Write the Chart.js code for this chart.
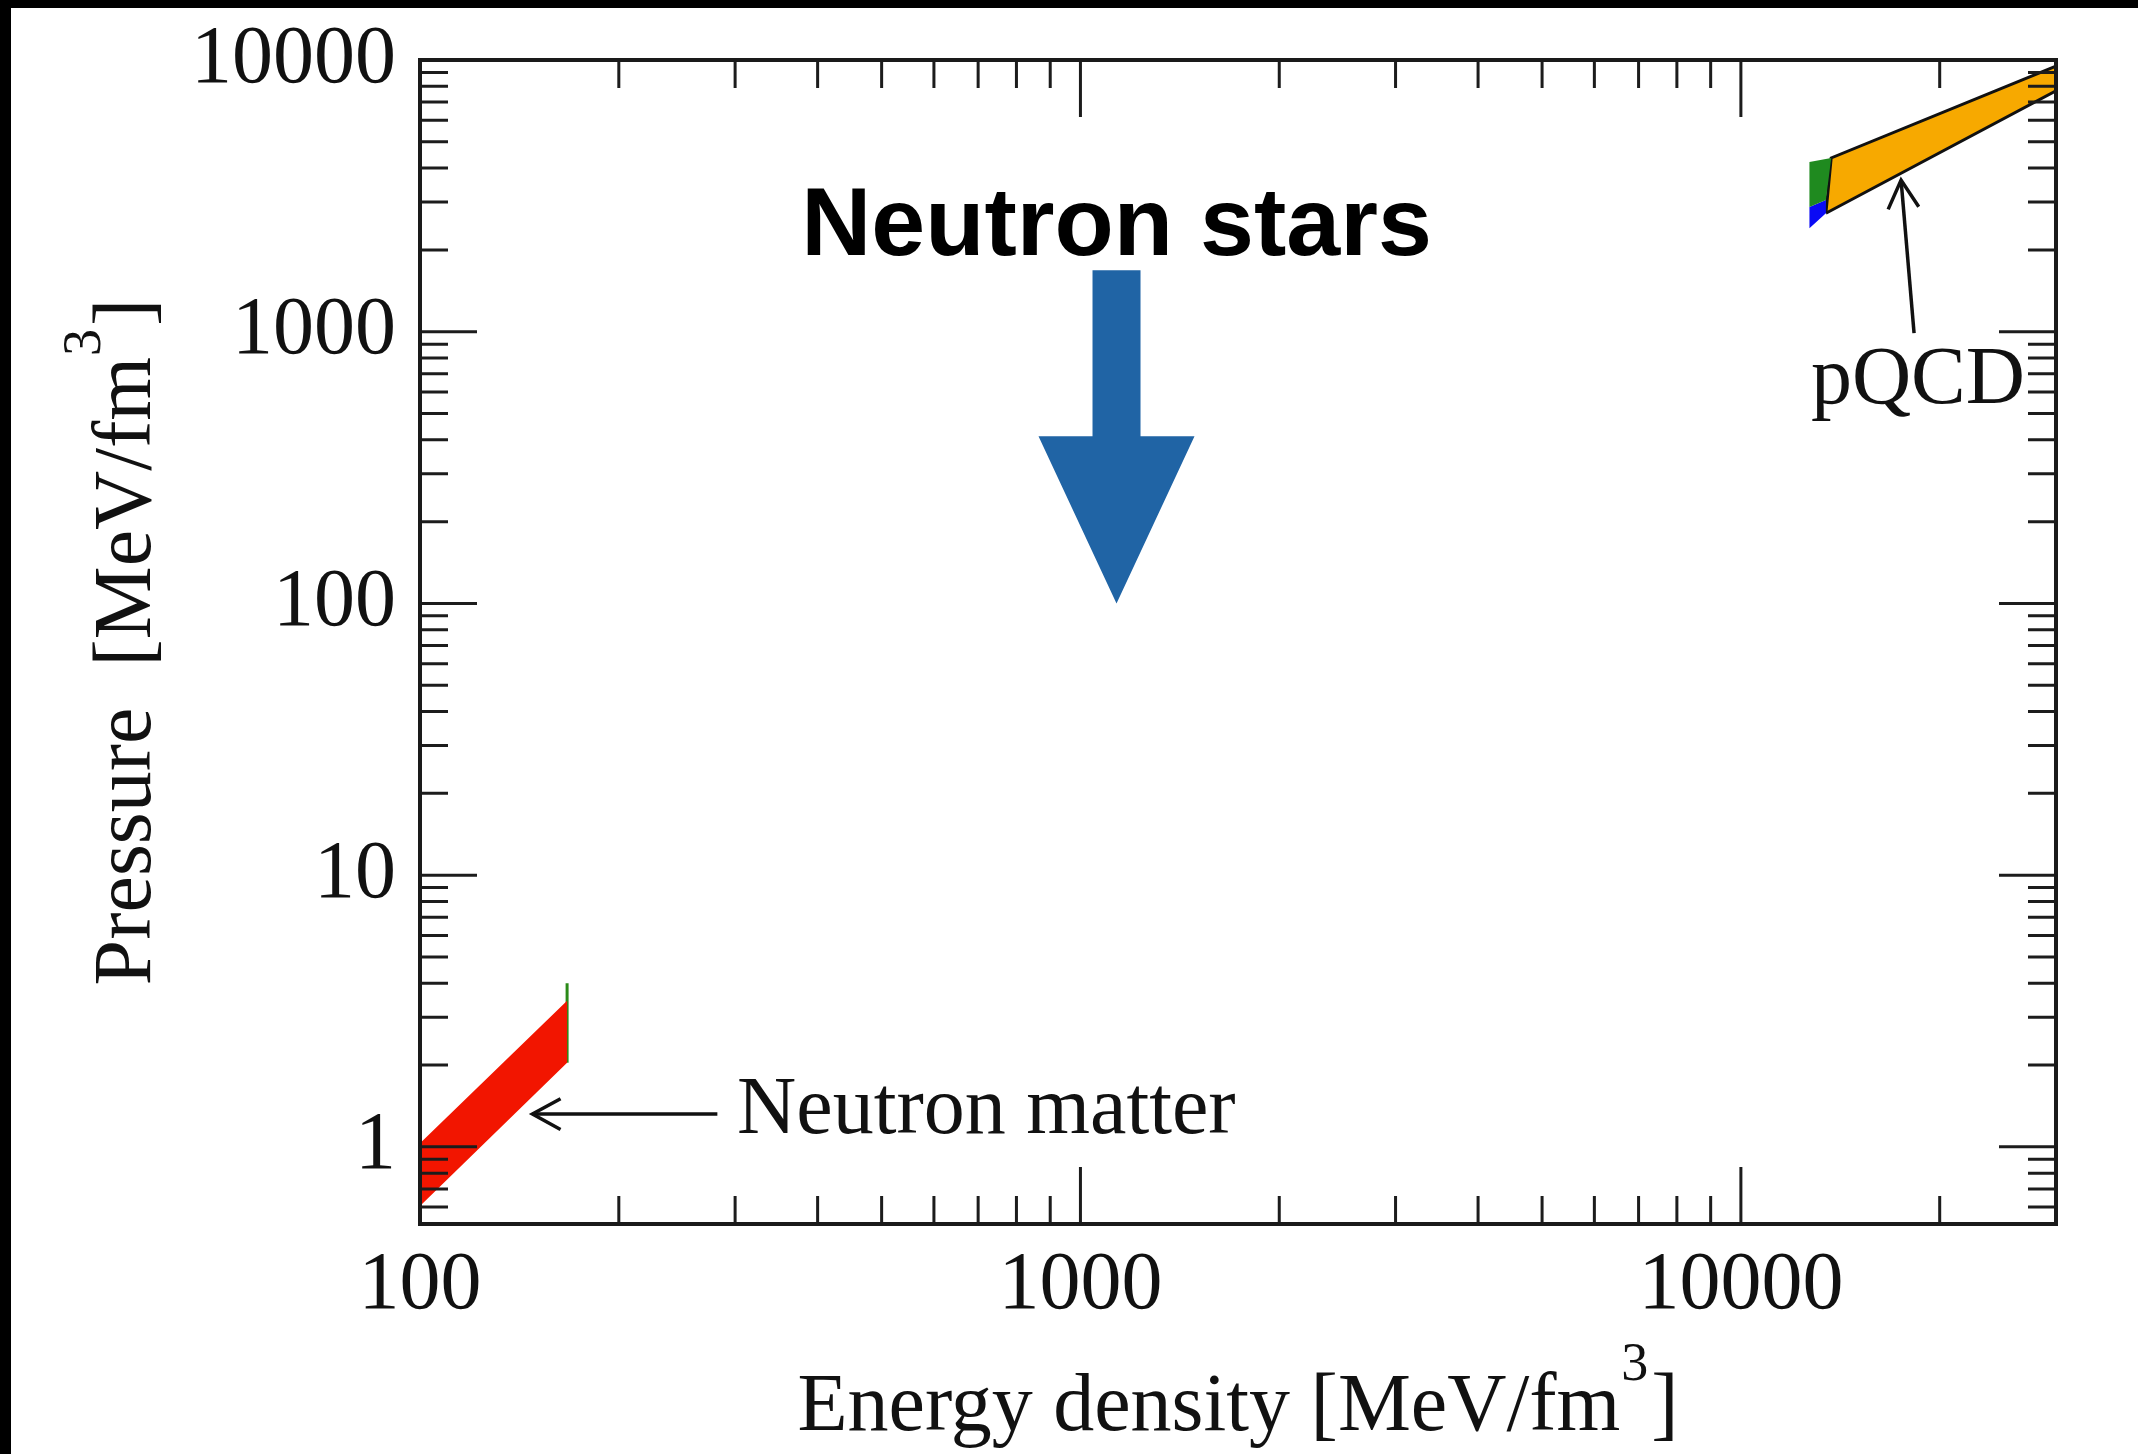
<!DOCTYPE html>
<html>
<head>
<meta charset="utf-8">
<script src="https://cdn.jsdelivr.net/npm/chart.js@4/dist/chart.umd.min.js"></script>
<style>
  html, body { margin: 0; padding: 0; background: #fff; }
  #wrap { position: relative; width: 2138px; height: 1454px; }
  canvas { display: block; }
</style>
</head>
<body>
<div id="wrap"><canvas id="c" width="2138" height="1454"></canvas></div>
<script>
// ---------------- data ----------------
const xTickValues = [100, 1000, 10000];
const yTickValues = [1, 10, 100, 1000, 10000];
const xRange = [100, 30000];
const yRange = [0.52, 10000];

// Neutron matter band (energy density, pressure)
const neutronEnergy = [100, 167];
const neutronPUpper = [1.03, 3.45];
const neutronPLower = [0.606, 2.04];
const neutronEdgeEnergy = [167, 167];
const neutronEdgeP = [2.04, 4.0];

// pQCD band
const pqcdEnergyUpper = [13700, 30000];
const pqcdPUpper = [4360, 9500];
const pqcdEnergyLower = [13450, 30000];
const pqcdPLower = [2730, 7700];

// coloured slivers at the left end of the pQCD band
const greenEnergy = [12700, 13700, 13450, 12700];
const greenP = [4210, 4360, 3050, 2877];
const blueEnergy = [12700, 13450, 13450, 12700];
const blueP = [2877, 3050, 2730, 2405];

// annotations (data coordinates)
const labelTexts = ['Neutron matter', 'pQCD', 'Neutron stars'];
const neutronArrowE = [148, 282];   // tip, tail
const neutronArrowP = [1.32, 1.32];
const neutronLabelAt = [302, 1.126];
const pqcdArrowE = [17480, 18290];  // tip, tail
const pqcdArrowP = [3614, 988];
const pqcdLabelAt = [18540, 545];
const starsLabelAt = [1134, 1914];
const starsArrowE = 1134;
const starsArrowP = [1685, 412, 100]; // shaft top, head base, tip

// ---------------- helpers ----------------
const pts = (xs, ys) => xs.map((x, i) => ({ x: x, y: ys[i] }));
const neutronPoly = pts(neutronEnergy, neutronPUpper)
  .concat(pts(neutronEnergy, neutronPLower).reverse());
const pqcdPoly = [{ x: pqcdEnergyLower[0], y: pqcdPLower[0] }]
  .concat(pts(pqcdEnergyUpper, pqcdPUpper))
  .concat(pts(pqcdEnergyLower, pqcdPLower).reverse());

const SERIF = '"Liberation Serif", "Times New Roman", serif';
const SANS = '"Liberation Sans", Arial, sans-serif';

const decorPlugin = {
  id: 'decor',
  beforeDraw(chart) {
    const ctx = chart.ctx;
    ctx.save();
    ctx.fillStyle = '#ffffff';
    ctx.fillRect(0, 0, chart.width, chart.height);
    ctx.fillStyle = '#000000';
    ctx.fillRect(0, 0, chart.width, 8);
    ctx.fillRect(0, 0, 11, chart.height);
    ctx.restore();
  },
  afterDatasetsDraw(chart) {
    const ctx = chart.ctx;
    const xs = chart.scales.x, ys = chart.scales.y;
    const { left, right, top, bottom } = chart.chartArea;
    ctx.save();
    // ticks (inward, mirrored)
    ctx.strokeStyle = '#1c1c1c';
    ctx.lineWidth = 3;
    const major = 57, minor = 28;
    const xMinor = [];
    [100, 1000, 10000].forEach(d => { for (let k = 2; k <= 9; k++) { const v = k * d; if (v < xRange[1]) xMinor.push(v); } });
    const yMinor = [];
    [0.1, 1, 10, 100, 1000].forEach(d => { for (let k = 2; k <= 9; k++) { const v = k * d; if (v > yRange[0] && v < yRange[1]) yMinor.push(v); } });
    const hTick = (v, len) => {
      const px = xs.getPixelForValue(v);
      ctx.beginPath();
      ctx.moveTo(px, bottom); ctx.lineTo(px, bottom - len);
      ctx.moveTo(px, top); ctx.lineTo(px, top + len);
      ctx.stroke();
    };
    const vTick = (v, len) => {
      const py = ys.getPixelForValue(v);
      ctx.beginPath();
      ctx.moveTo(left, py); ctx.lineTo(left + len, py);
      ctx.moveTo(right, py); ctx.lineTo(right - len, py);
      ctx.stroke();
    };
    xTickValues.forEach(v => hTick(v, major));
    xMinor.forEach(v => hTick(v, minor));
    yTickValues.forEach(v => vTick(v, major));
    yMinor.forEach(v => vTick(v, minor));
    // frame
    ctx.lineWidth = 4;
    ctx.strokeStyle = '#1a1a1a';
    ctx.strokeRect(left, top, right - left, bottom - top);

    // annotation arrows (thin)
    ctx.lineWidth = 3.5;
    ctx.strokeStyle = '#111';
    const arrow = (x1, y1, x2, y2) => { // from tail (x1,y1) to tip (x2,y2)
      ctx.beginPath(); ctx.moveTo(x1, y1); ctx.lineTo(x2, y2); ctx.stroke();
      const a = Math.atan2(y2 - y1, x2 - x1), L = 32, w = 0.5;
      ctx.beginPath();
      ctx.moveTo(x2 - L * Math.cos(a - w), y2 - L * Math.sin(a - w));
      ctx.lineTo(x2, y2);
      ctx.lineTo(x2 - L * Math.cos(a + w), y2 - L * Math.sin(a + w));
      ctx.stroke();
    };
    arrow(xs.getPixelForValue(neutronArrowE[1]), ys.getPixelForValue(neutronArrowP[1]),
          xs.getPixelForValue(neutronArrowE[0]), ys.getPixelForValue(neutronArrowP[0]));
    arrow(xs.getPixelForValue(pqcdArrowE[1]), ys.getPixelForValue(pqcdArrowP[1]),
          xs.getPixelForValue(pqcdArrowE[0]), ys.getPixelForValue(pqcdArrowP[0]));

    // label texts
    ctx.fillStyle = '#111';
    ctx.font = '82px ' + SERIF;
    ctx.textBaseline = 'alphabetic';
    ctx.textAlign = 'left';
    ctx.fillText(labelTexts[0], xs.getPixelForValue(neutronLabelAt[0]), ys.getPixelForValue(neutronLabelAt[1]));
    ctx.textAlign = 'center';
    ctx.fillText(labelTexts[1], xs.getPixelForValue(pqcdLabelAt[0]), ys.getPixelForValue(pqcdLabelAt[1]));
    ctx.fillStyle = '#000';
    ctx.font = 'bold 97px ' + SANS;
    ctx.fillText(labelTexts[2], xs.getPixelForValue(starsLabelAt[0]), ys.getPixelForValue(starsLabelAt[1]));

    // big blue arrow
    const cx = xs.getPixelForValue(starsArrowE);
    const yTop = ys.getPixelForValue(starsArrowP[0]);
    const yBase = ys.getPixelForValue(starsArrowP[1]);
    const yTip = ys.getPixelForValue(starsArrowP[2]);
    const sw = 24, hw = 78;
    ctx.fillStyle = '#2064a5';
    ctx.beginPath();
    ctx.moveTo(cx - sw, yTop); ctx.lineTo(cx + sw, yTop);
    ctx.lineTo(cx + sw, yBase); ctx.lineTo(cx + hw, yBase);
    ctx.lineTo(cx, yTip); ctx.lineTo(cx - hw, yBase);
    ctx.lineTo(cx - sw, yBase); ctx.closePath();
    ctx.fill();

    // axis titles with superscript
    const cxA = (left + right) / 2, cyA = (top + bottom) / 2;
    const drawTitle = (main, sup, tail) => {
      ctx.font = '82px ' + SERIF;
      const w1 = ctx.measureText(main).width;
      const w3 = ctx.measureText(tail).width;
      ctx.font = '54px ' + SERIF;
      const w2 = ctx.measureText(sup).width;
      const total = w1 + w2 + w3 + 4;
      let x0 = -total / 2;
      ctx.textAlign = 'left';
      ctx.font = '82px ' + SERIF;
      ctx.fillText(main, x0, 0);
      ctx.font = '54px ' + SERIF;
      ctx.fillText(sup, x0 + w1 + 1, -50);
      ctx.font = '82px ' + SERIF;
      ctx.fillText(tail, x0 + w1 + w2 + 4, 0);
    };
    ctx.fillStyle = '#111';
    ctx.save();
    ctx.translate(cxA, bottom + 206);
    drawTitle('Energy density [MeV/fm', '3', ']');
    ctx.restore();
    ctx.save();
    ctx.translate(left - 270, cyA);
    ctx.rotate(-Math.PI / 2);
    drawTitle('Pressure  [MeV/fm', '3', ']');
    ctx.restore();

    ctx.restore();
  }
};

const common = { showLine: true, pointRadius: 0, pointHoverRadius: 0, tension: 0 };

new Chart(document.getElementById('c'), {
  type: 'scatter',
  data: {
    datasets: [
      Object.assign({ label: 'Neutron matter', data: neutronPoly, backgroundColor: '#f21500', borderWidth: 0, borderColor: 'rgba(0,0,0,0)', fill: 'shape' }, common),
      Object.assign({ label: 'Neutron matter edge', data: pts(neutronEdgeEnergy, neutronEdgeP), borderColor: '#2a8a18', borderWidth: 3, fill: false }, common),
      Object.assign({ label: 'pQCD green', data: pts(greenEnergy, greenP), backgroundColor: '#1f8a1f', borderWidth: 0, borderColor: 'rgba(0,0,0,0)', fill: 'shape' }, common),
      Object.assign({ label: 'pQCD blue', data: pts(blueEnergy, blueP), backgroundColor: '#0a0af5', borderWidth: 0, borderColor: 'rgba(0,0,0,0)', fill: 'shape' }, common),
      Object.assign({ label: 'pQCD', data: pqcdPoly, backgroundColor: '#f7a900', borderColor: '#111', borderWidth: 3, fill: 'shape' }, common)
    ]
  },
  options: {
    responsive: false,
    animation: false,
    devicePixelRatio: 1,
    layout: { padding: { top: 60, right: 82, left: 0, bottom: 0 } },
    plugins: { legend: { display: false }, tooltip: { enabled: false } },
    scales: {
      x: {
        type: 'logarithmic', min: xRange[0], max: xRange[1],
        grid: { display: false, drawTicks: false },
        border: { display: false },
        ticks: { font: { family: SERIF, size: 82 }, color: '#111', padding: 13, maxRotation: 0, autoSkip: false,
                 callback: v => String(v) },
        afterBuildTicks: s => { s.ticks = xTickValues.map(v => ({ value: v })); },
        afterFit: s => { s.height = 230; s.paddingLeft = 0; s.paddingRight = 0; }
      },
      y: {
        type: 'logarithmic', min: yRange[0], max: yRange[1],
        grid: { display: false, drawTicks: false },
        border: { display: false },
        ticks: { font: { family: SERIF, size: 82 }, color: '#111', padding: 24, autoSkip: false,
                 callback: v => String(v) },
        afterBuildTicks: s => { s.ticks = yTickValues.map(v => ({ value: v })); },
        afterFit: s => { s.width = 420; s.paddingTop = 0; s.paddingBottom = 0; }
      }
    }
  },
  plugins: [decorPlugin]
});
</script>
</body>
</html>
